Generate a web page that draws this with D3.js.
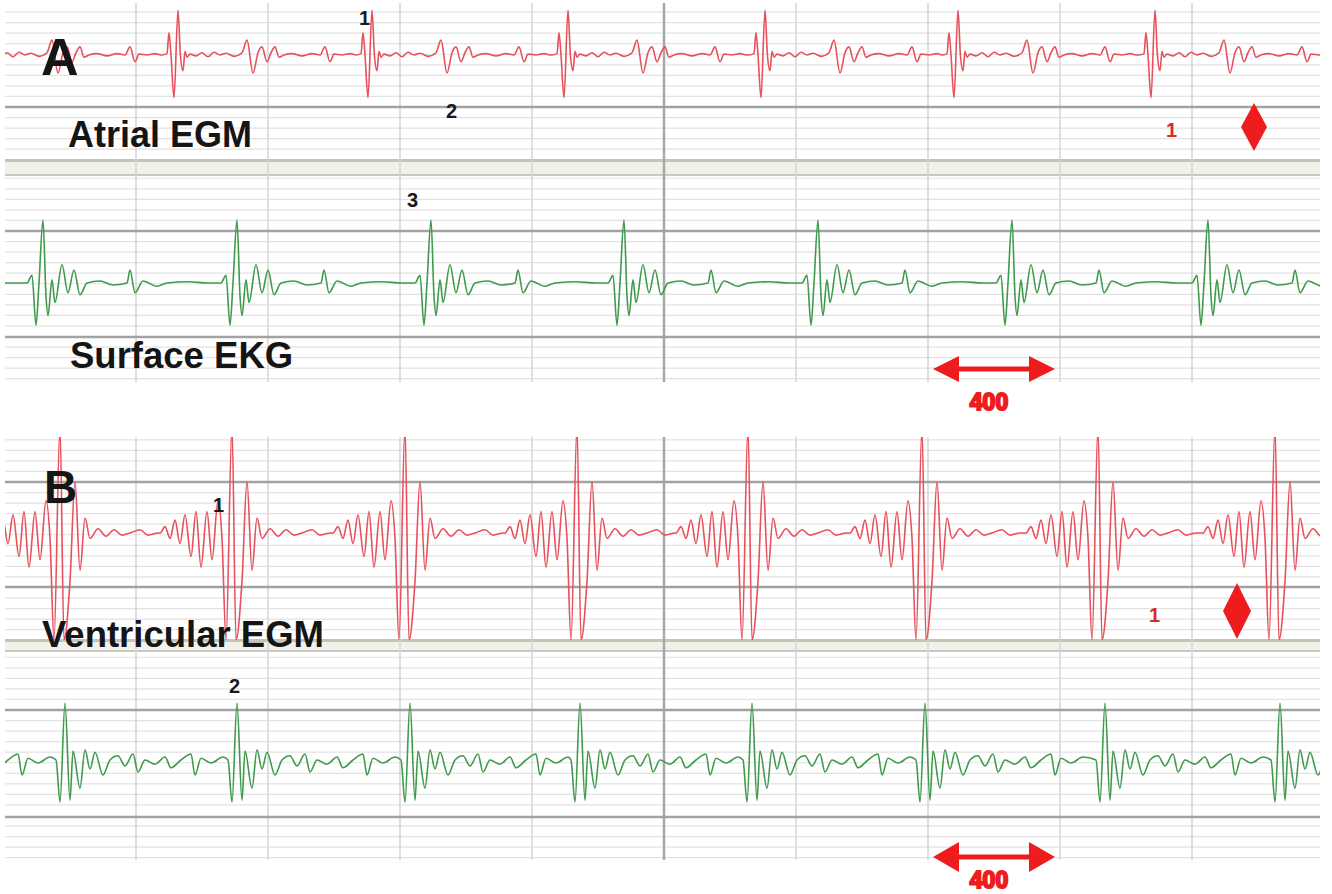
<!DOCTYPE html>
<html>
<head>
<meta charset="utf-8">
<script src="https://cdn.jsdelivr.net/npm/d3@7/dist/d3.min.js"></script>
<style>
  body { margin: 0; background: #fff; }
  svg { display: block; }
</style>
</head>
<body>
<div id="chart"></div>
<script>
// beat times in ms
var atrialBeats = [-125, 850, 1820, 2800, 3785, 4750, 5735];
var surfaceBeatsA = [175, 1145, 2115, 3080, 4050, 5020, 6000];
var ventBeats = [-600, 260, 1120, 1985, 2845, 3700, 4570, 5450, 6335];
var surfaceBeatsB = [-580, 285, 1145, 2010, 2860, 3720, 4585, 5485, 6360];

// one complex per strip: [offset ms, normalised amplitude]
var atrialShape = [
    [-80, 0], [-55, 0.03], [-45, 0.5], [-35, 0.0], [-20, -0.95], [0, 1.0], [12, 0.0],
    [25, -0.35], [35, 0.08], [45, -0.05], [60, 0.02], [90, -0.02], [120, 0.05],
    [150, -0.04], [180, 0.06], [210, 0.0], [240, 0.04], [280, -0.03], [320, 0.05],
    [345, 0.33], [375, -0.4], [400, 0.05], [420, 0.18], [445, -0.15], [465, 0.05],
    [485, 0.18], [505, -0.05], [530, 0.0], [570, 0.03], [620, -0.02], [670, 0.03],
    [710, 0.0], [735, 0.18], [760, -0.15], [780, 0.02], [820, 0.0], [860, 0.03], [890, 0.0]
];
var surfaceShapeA = [
    [-80, 0], [-55, 0.12], [-35, -0.65], [-20, 0.0], [0, 0.97], [15, -0.2], [25, -0.5],
    [45, 0.05], [60, -0.3], [95, 0.28], [125, -0.15], [155, 0.2], [185, -0.18],
    [220, 0.0], [285, 0.03], [350, -0.03], [420, 0.0], [435, 0.2], [460, -0.15],
    [500, 0.03], [570, -0.05], [620, 0.0], [725, 0.02], [825, 0.0]
];
var ventShape = [
    [-360, 0.0], [-335, 0.06], [-310, -0.05], [-285, 0.12], [-260, -0.1], [-235, 0.17],
    [-205, -0.22], [-180, 0.2], [-155, -0.32], [-125, 0.2], [-100, -0.25], [-70, 0.3],
    [-50, -0.05], [-30, -1.0], [0, 1.0], [20, -1.0], [50, -0.45], [75, 0.48], [100, -0.35],
    [125, 0.14], [150, -0.05], [190, 0.04], [230, -0.03], [270, 0.03], [310, -0.02],
    [350, 0.0], [400, 0.03], [440, -0.02], [490, 0.0]
];
var surfaceShapeB = [
    [-45, 0.05], [-25, -0.65], [0, 1.0], [25, -0.62], [40, 0.2], [75, -0.42], [100, 0.22],
    [125, -0.1], [150, 0.18], [190, -0.2], [225, 0.05], [265, 0.12], [300, -0.05],
    [340, 0.15], [365, -0.15], [400, 0.05], [450, -0.02], [500, 0.1], [530, -0.08],
    [580, 0.05], [630, 0.15], [650, -0.2], [680, 0.08], [730, 0.0], [790, 0.1]
];

var labels = ['A', 'Atrial EGM', 'Surface EKG', 'B', 'Ventricular EGM'];
var markers = ['1', '2', '3', '1', '2'];
var intervalText = '400';

var W = 1332, H = 894;
var svg = d3.select('#chart').append('svg').attr('width', W).attr('height', H);

var x = d3.scaleLinear().domain([0, 6560]).range([8, 1320]);

var strips = [
    { id: 'a1', top: 3, bottom: 160, thick: [107], base: 55, amp: 45, beats: atrialBeats, shape: atrialShape, color: '#e8505c' },
    { id: 'a2', top: 177, bottom: 382, thick: [231, 337], base: 283, amp: 65, beats: surfaceBeatsA, shape: surfaceShapeA, color: '#3f9a4c' },
    { id: 'b1', top: 437, bottom: 640, thick: [482, 587], base: 533, amp: 107, beats: ventBeats, shape: ventShape, color: '#e8505c' },
    { id: 'b2', top: 652, bottom: 860, thick: [710, 817], base: 763, amp: 60, beats: surfaceBeatsB, shape: surfaceShapeB, color: '#3f9a4c' }
];
var step = 10.55;
var gridLeft = 5, gridRight = 1320;
var verticals = [136, 268, 400, 532, 664, 796, 928, 1060, 1192];

var grid = svg.append('g');

strips.forEach(function (s) {
    var ys = [];
    for (var y = s.thick[0] - step; y >= s.top; y -= step) ys.push(y);
    for (y = s.thick[0] + step; y <= s.bottom; y += step) {
        if (s.thick.every(function (t) { return Math.abs(t - y) > 2; })) ys.push(y);
    }
    grid.selectAll(null).data(ys).enter().append('line')
        .attr('x1', gridLeft).attr('x2', gridRight)
        .attr('y1', function (d) { return d; }).attr('y2', function (d) { return d; })
        .attr('stroke', '#e2e2e2').attr('stroke-width', 1.2);
});

// separator bands
[[159, 176], [639, 652]].forEach(function (b) {
    grid.append('rect').attr('x', gridLeft).attr('y', b[0]).attr('width', gridRight - gridLeft)
        .attr('height', b[1] - b[0]).attr('fill', '#f1f1ea');
    grid.append('line').attr('x1', gridLeft).attr('x2', gridRight).attr('y1', b[0] + 1.5).attr('y2', b[0] + 1.5)
        .attr('stroke', '#c4c4b8').attr('stroke-width', 3);
    grid.append('line').attr('x1', gridLeft).attr('x2', gridRight).attr('y1', b[1] - 1).attr('y2', b[1] - 1)
        .attr('stroke', '#c9c9bf').attr('stroke-width', 2);
});

// vertical divisions
[[3, 382], [437, 860]].forEach(function (span) {
    grid.selectAll(null).data(verticals).enter().append('line')
        .attr('x1', function (d) { return d; }).attr('x2', function (d) { return d; })
        .attr('y1', span[0]).attr('y2', span[1])
        .attr('stroke', function (d, i) { return i === 4 ? '#a8a8a8' : '#d4d4d4'; })
        .attr('stroke-width', function (d, i) { return i === 4 ? 2.5 : 1.5; });
});

strips.forEach(function (s) {
    grid.selectAll(null).data(s.thick).enter().append('line')
        .attr('x1', gridLeft).attr('x2', gridRight)
        .attr('y1', function (d) { return d; }).attr('y2', function (d) { return d; })
        .attr('stroke', '#a2a2a2').attr('stroke-width', 2.5);
});

// traces
var defs = svg.append('defs');
strips.forEach(function (s) {
    defs.append('clipPath').attr('id', 'clip-' + s.id).append('rect')
        .attr('x', gridLeft).attr('y', s.top).attr('width', gridRight - gridLeft).attr('height', s.bottom - s.top);

    var y = d3.scaleLinear().domain([-1, 1]).range([s.base + s.amp, s.base - s.amp]);
    var pts = [[x.domain()[0] - 600, 0]];
    s.beats.forEach(function (b) {
        s.shape.forEach(function (p) { pts.push([b + p[0], p[1]]); });
    });
    pts.push([x.domain()[1] + 600, 0]);
    pts.sort(function (a, b) { return a[0] - b[0]; });

    var line = d3.line()
        .x(function (d) { return x(d[0]); })
        .y(function (d) { return y(d[1]); })
        .curve(d3.curveMonotoneX);

    svg.append('path')
        .attr('clip-path', 'url(#clip-' + s.id + ')')
        .attr('d', line(pts))
        .attr('fill', 'none')
        .attr('stroke', s.color)
        .attr('stroke-width', 1.6)
        .attr('stroke-linejoin', 'round');
});

// text
var txt = svg.append('g').attr('font-family', '"Liberation Sans", Arial, sans-serif').attr('font-weight', 'bold');
var labelPos = [
    { x: 41, y: 75, size: 52 },
    { x: 68, y: 147, size: 36 },
    { x: 70, y: 368, size: 36.5 },
    { x: 44, y: 503, size: 46 },
    { x: 42, y: 647, size: 36.5 }
];
labels.forEach(function (l, i) {
    txt.append('text').attr('x', labelPos[i].x).attr('y', labelPos[i].y)
        .attr('font-size', labelPos[i].size).attr('fill', '#151515').text(l);
});

var markerPos = [
    { x: 359, y: 25 }, { x: 446, y: 118 }, { x: 407, y: 207 }, { x: 213, y: 512 }, { x: 229, y: 693 }
];
markers.forEach(function (m, i) {
    txt.append('text').attr('x', markerPos[i].x).attr('y', markerPos[i].y)
        .attr('font-size', 20).attr('fill', '#1a1a1a').text(m);
});

// red markers: "1" and diamond
var red = '#ee1c1c';
[{ tx: 1166, ty: 137, cx: 1254, cy: 127, w: 13, h: 24 },
 { tx: 1149, ty: 622, cx: 1237, cy: 611, w: 14, h: 28 }].forEach(function (r) {
    txt.append('text').attr('x', r.tx).attr('y', r.ty).attr('font-size', 20).attr('fill', '#d42a2a').text('1');
    svg.append('path')
        .attr('d', 'M' + r.cx + ',' + (r.cy - r.h) + 'L' + (r.cx + r.w) + ',' + r.cy + 'L' + r.cx + ',' + (r.cy + r.h) + 'L' + (r.cx - r.w) + ',' + r.cy + 'Z')
        .attr('fill', red);
});

// interval arrows
[{ y: 369, ty: 410, hh: 13 }, { y: 857, ty: 888, hh: 15 }].forEach(function (a) {
    var l = 933, r = 1055, hl = 26;
    svg.append('rect').attr('x', l + 10).attr('y', a.y - 2.5).attr('width', r - l - 20).attr('height', 5).attr('fill', red);
    svg.append('path').attr('d', 'M' + l + ',' + a.y + 'L' + (l + hl) + ',' + (a.y - a.hh) + 'L' + (l + hl) + ',' + (a.y + a.hh) + 'Z').attr('fill', red);
    svg.append('path').attr('d', 'M' + r + ',' + a.y + 'L' + (r - hl) + ',' + (a.y - a.hh) + 'L' + (r - hl) + ',' + (a.y + a.hh) + 'Z').attr('fill', red);
    txt.append('text').attr('x', 989).attr('y', a.ty).attr('text-anchor', 'middle')
        .attr('font-size', 23).attr('fill', red).attr('stroke', red).attr('stroke-width', 2)
        .text(intervalText);
});
</script>
</body>
</html>
